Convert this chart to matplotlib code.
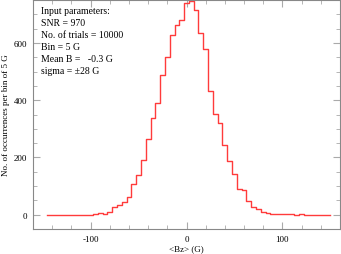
import matplotlib
matplotlib.use('Agg')
from matplotlib import pyplot as plt
from matplotlib.ticker import MultipleLocator

# bin centres (G) and counts per 5 G bin
centres = list(range(-145, 155, 5))
counts_left = [0]*10 + [3, 6, 2, 10, 27, 35, 46, 61, 108, 140, 192, 266, 338, 390, 489, 552, 627, 662, 679]
counts_right = [739, 746, 714, 633, 578, 432, 352, 320, 245, 188, 141, 90, 85, 48, 28, 21, 9, 5, 3, 2, 1, 2, 1, 0, 1, 0, 0, 0, 0, 0, 0]
counts = counts_left + counts_right

info = ['Input parameters:', 'SNR = 970', 'No. of trials = 10000',
        'Bin = 5 G', 'Mean B =   -0.3 G', 'sigma = \u00b128 G']

plt.rcParams['font.family'] = ['Liberation Serif', 'DejaVu Serif']
plt.rcParams['axes.unicode_minus'] = False

fig = plt.figure(figsize=(3.41, 2.55), dpi=100)
ax = fig.add_axes([33/341, 25/255, 307/341, 229/255])

ax.step(centres, counts, where='mid', color='#ff3b3b', lw=1.0)

ax.set_xlim(-160, 160)
ax.set_ylim(-50, 750)
ax.xaxis.set_major_locator(MultipleLocator(100))
ax.xaxis.set_minor_locator(MultipleLocator(20))
ax.yaxis.set_major_locator(MultipleLocator(200))
ax.yaxis.set_minor_locator(MultipleLocator(50))
ax.tick_params(which='both', direction='in', top=True, right=True,
               color='#aaaaaa', labelsize=6.5, pad=4)
ax.tick_params(which='major', length=5)
ax.tick_params(which='minor', length=3)
for s in ax.spines.values():
    s.set_color('#888888')
    s.set_linewidth(0.8)

ax.set_xlabel('<Bz> (G)', fontsize=6.5, labelpad=1)
ax.set_ylabel('No. of occurrences per bin of 5 G', fontsize=6.5, labelpad=3)

# parameter box text, placed in figure pixels
for i, line in enumerate(info):
    fig.text(41/341, 1 - (12 + 12*i)/255, line, fontsize=7, va='center', ha='left')

fig.savefig('out.png', dpi=100)
